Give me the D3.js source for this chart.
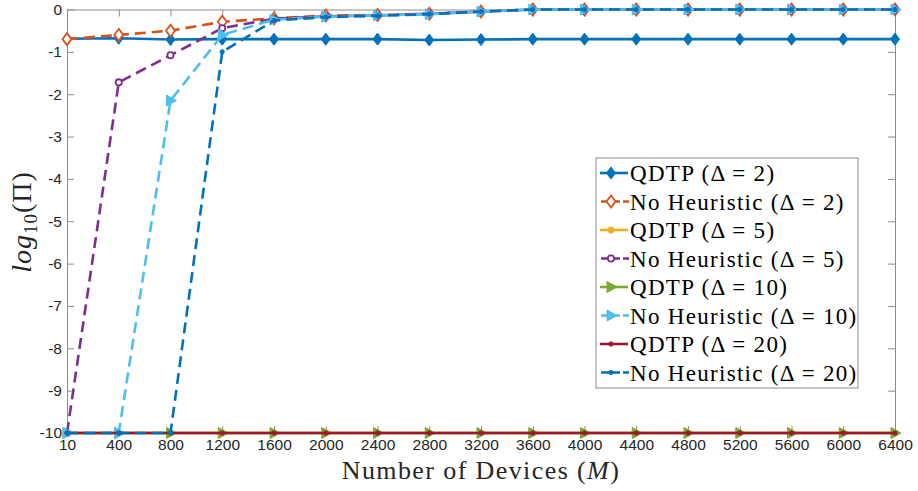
<!DOCTYPE html>
<html>
<head>
<meta charset="utf-8">
<script src="https://cdn.jsdelivr.net/npm/d3@7"></script>
<style>
  body { margin: 0; background: #fff; }
  svg { display: block; }
</style>
</head>
<body>
<div id="chart"></div>
<script>
// x positions are the device counts, evenly spaced on the axis
var devices = [10, 400, 800, 1200, 1600, 2000, 2400, 2800, 3200, 3600, 4000, 4400, 4800, 5200, 5600, 6000, 6400];
var yTicks = [0, -1, -2, -3, -4, -5, -6, -7, -8, -9, -10];

// log10(Pi) values
var qdtp2 = [-0.69, -0.68, -0.71, -0.70, -0.70, -0.70, -0.70, -0.72, -0.71, -0.70, -0.70, -0.70, -0.70, -0.70, -0.70, -0.70, -0.70];
var noHeur2 = [-0.70, -0.60, -0.50, -0.29, -0.21, -0.14, -0.13, -0.10, -0.05, 0, 0, 0, 0, 0, 0, 0, 0];
var qdtp5 = [-10, -10, -10, -10, -10, -10, -10, -10, -10, -10, -10, -10, -10, -10, -10, -10, -10];
var noHeur5 = [-10, -1.72, -1.08, -0.44, -0.22, -0.16, -0.14, -0.10, -0.05, 0, 0, 0, 0, 0, 0, 0, 0];
var qdtp10 = [-10, -10, -10, -10, -10, -10, -10, -10, -10, -10, -10, -10, -10, -10, -10, -10, -10];
var noHeur10 = [-10, -10, -2.15, -0.60, -0.24, -0.17, -0.14, -0.11, -0.05, 0, 0, 0, 0, 0, 0, 0, 0];
var qdtp20 = [-10, -10, -10, -10, -10, -10, -10, -10, -10, -10, -10, -10, -10, -10, -10, -10, -10];
var noHeur20 = [-10, -10, -10, -1.00, -0.26, -0.18, -0.15, -0.11, -0.05, 0, 0, 0, 0, 0, 0, 0, 0];

var seriesNames = ["QDTP (\u0394 = 2)", "No Heuristic (\u0394 = 2)", "QDTP (\u0394 = 5)", "No Heuristic (\u0394 = 5)",
                   "QDTP (\u0394 = 10)", "No Heuristic (\u0394 = 10)", "QDTP (\u0394 = 20)", "No Heuristic (\u0394 = 20)"];

var series = [
  {name: seriesNames[0], values: qdtp2, color: "#0072BD", dashed: false, marker: "diamond", filled: true},
  {name: seriesNames[1], values: noHeur2, color: "#D95319", dashed: true, marker: "diamond", filled: false},
  {name: seriesNames[2], values: qdtp5, color: "#EDB120", dashed: false, marker: "circle", filled: true},
  {name: seriesNames[3], values: noHeur5, color: "#7E2F8E", dashed: true, marker: "circle", filled: false},
  {name: seriesNames[4], values: qdtp10, color: "#77AC30", dashed: false, marker: "triangle", filled: true},
  {name: seriesNames[5], values: noHeur10, color: "#4DBEEE", dashed: true, marker: "triangle", filled: true},
  {name: seriesNames[6], values: qdtp20, color: "#A2142F", dashed: false, marker: "dot", filled: true},
  {name: seriesNames[7], values: noHeur20, color: "#0072BD", dashed: true, marker: "dot", filled: true}
];

var width = 918, height = 491;
var margin = {top: 9.5, right: 23, bottom: 58, left: 67};

var svg = d3.select("#chart").append("svg")
  .attr("width", width)
  .attr("height", height);

var x = d3.scalePoint()
  .domain(devices)
  .range([margin.left, width - margin.right]);

var y = d3.scaleLinear()
  .domain([-10, 0])
  .range([height - margin.bottom, margin.top]);

var axisColor = "#8c8c8c";
var tickFont = "'Liberation Sans', Arial, sans-serif";
var serif = "'Liberation Serif', 'Times New Roman', serif";

// axes (MATLAB style: ticks inside, box on)
var xAxis = svg.append("g")
  .attr("transform", `translate(0,${y(-10)})`)
  .call(d3.axisBottom(x).tickSizeInner(-7).tickSizeOuter(0).tickPadding(6));
var yAxis = svg.append("g")
  .attr("transform", `translate(${margin.left},0)`)
  .call(d3.axisLeft(y).tickValues(yTicks).tickFormat(d => String(d)).tickSizeInner(-7).tickSizeOuter(0).tickPadding(5));
var xTop = svg.append("g")
  .attr("transform", `translate(0,${y(0)})`)
  .call(d3.axisTop(x).tickSizeInner(-7).tickSizeOuter(0).tickFormat(""));
var yRight = svg.append("g")
  .attr("transform", `translate(${width - margin.right},0)`)
  .call(d3.axisRight(y).tickValues(yTicks).tickSizeInner(-7).tickSizeOuter(0).tickFormat(""));

[xAxis, yAxis, xTop, yRight].forEach(g => {
  g.select(".domain").attr("stroke", axisColor).attr("stroke-width", 1);
  g.selectAll(".tick line").attr("stroke", axisColor).attr("stroke-width", 1);
  g.selectAll("text").attr("fill", "#262626").style("font-family", tickFont).style("font-size", "15.5px");
});

// lines
var line = d3.line()
  .x((d, i) => x(devices[i]))
  .y(d => y(d));

var markerPath = (type) => {
  if (type === "diamond") return "M0,-6L4.5,0L0,6L-4.5,0Z";
  if (type === "circle") return d3.symbol(d3.symbolCircle, 30)();
  if (type === "triangle") return "M-4,-5.5L6,0L-4,5.5Z";
  return d3.symbol(d3.symbolCircle, 14)();
};

series.forEach(s => {
  var g = svg.append("g");
  g.append("path")
    .datum(s.values)
    .attr("fill", "none")
    .attr("stroke", s.color)
    .attr("stroke-width", 2.6)
    .attr("stroke-dasharray", s.dashed ? "11,6" : null)
    .attr("d", line);

  g.selectAll("path.mk")
    .data(s.values)
    .join("path")
    .attr("class", "mk")
    .attr("transform", (d, i) => `translate(${x(devices[i])},${y(d)})`)
    .attr("d", markerPath(s.marker))
    .attr("fill", s.filled ? s.color : "#fff")
    .attr("stroke", s.color)
    .attr("stroke-width", s.filled ? 1 : 1.8);
});

// legend
var legend = svg.append("g").attr("transform", "translate(596,158)");
legend.append("rect")
  .attr("width", 262)
  .attr("height", 230)
  .attr("fill", "#fff")
  .attr("stroke", axisColor)
  .attr("stroke-width", 1);

var rowH = 28.5;
var items = legend.selectAll("g.item")
  .data(series)
  .join("g")
  .attr("class", "item")
  .attr("transform", (d, i) => `translate(0,${15 + i * rowH})`);

items.append("path")
  .attr("d", d => d.dashed ? "M5,0H24M27,0H33" : "M4,0H32")
  .attr("stroke", d => d.color)
  .attr("stroke-width", 2.6)
  .attr("fill", "none");
items.append("path")
  .attr("transform", "translate(15,0)")
  .attr("d", d => markerPath(d.marker))
  .attr("fill", d => d.filled ? d.color : "#fff")
  .attr("stroke", d => d.color)
  .attr("stroke-width", d => d.filled ? 1 : 1.8);
items.append("text")
  .attr("x", 34)
  .attr("dy", "0.35em")
  .attr("font-family", serif)
  .attr("font-size", 23)
  .attr("letter-spacing", 1.3)
  .attr("fill", "#000")
  .text(d => d.name);

// axis labels
svg.append("text")
  .attr("x", (margin.left + width - margin.right) / 2)
  .attr("y", 479)
  .attr("text-anchor", "middle")
  .attr("font-family", serif)
  .attr("font-size", 26)
  .attr("letter-spacing", 1.4)
  .attr("fill", "#262626")
  .html("Number of Devices (<tspan font-style='italic'>M</tspan>)");

var yl = svg.append("text")
  .attr("transform", `translate(31,222) rotate(-90)`)
  .attr("text-anchor", "middle")
  .attr("font-family", serif)
  .attr("font-size", 28)
  .attr("letter-spacing", 1)
  .attr("fill", "#262626");
yl.append("tspan").attr("font-style", "italic").text("log");
yl.append("tspan").attr("font-size", 19).attr("dy", 6).text("10");
yl.append("tspan").attr("dy", -6).text("(\u03A0)");
</script>
</body>
</html>
